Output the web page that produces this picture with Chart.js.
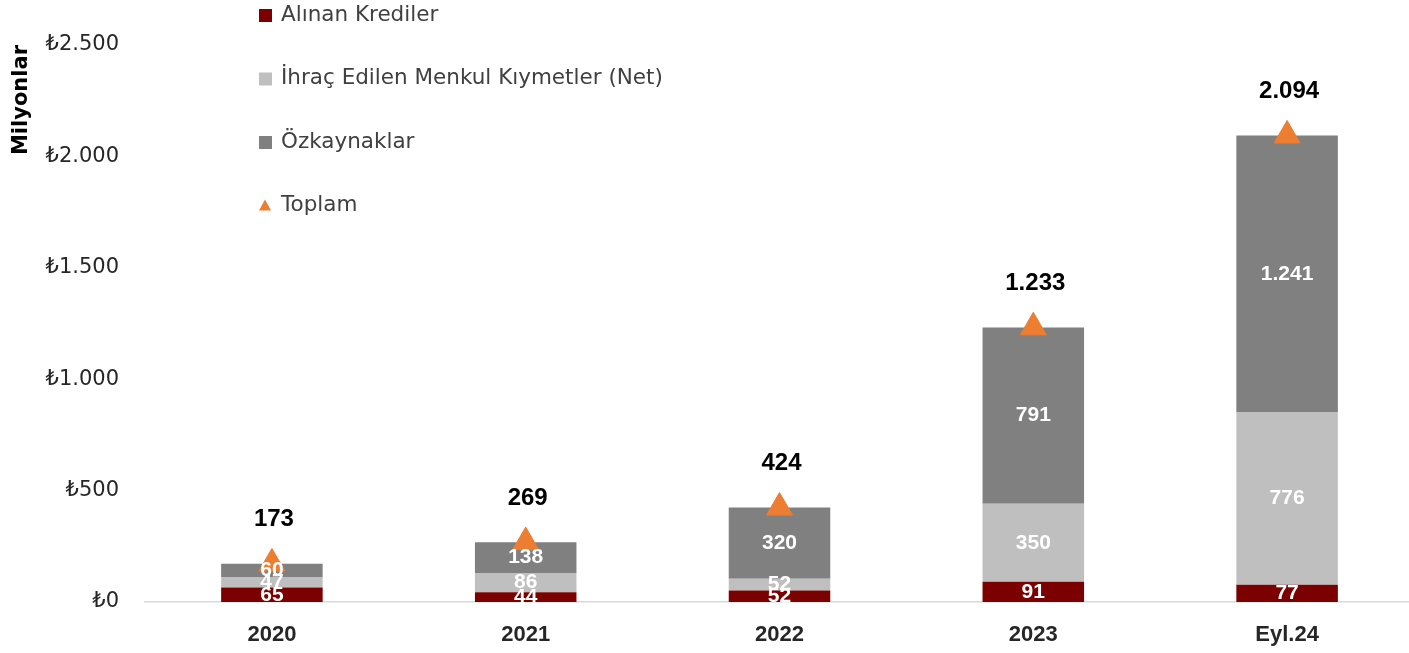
<!DOCTYPE html>
<html>
<head>
<meta charset="utf-8">
<script src="https://cdn.jsdelivr.net/npm/chart.js@4/dist/chart.umd.min.js"></script>
<style>
  html, body { margin: 0; padding: 0; background: #fff; overflow: hidden; }
  #wrap { width: 1430px; height: 653px; }
</style>
</head>
<body>
<div id="wrap"><canvas id="myChart"></canvas></div>
<script>
// values in millions TL
const categories = ['2020', '2021', '2022', '2023', 'Eyl.24'];
const krediler = [65, 44, 52, 91, 77];
const menkul = [47, 86, 52, 350, 776];
const ozkaynak = [60, 138, 320, 791, 1241];
const toplam = [173, 269, 424, 1233, 2094];
const yTicks = [0, 500, 1000, 1500, 2000, 2500];

const WIDE = "'DejaVu Sans', sans-serif";
const NARROW = "'Liberation Sans', Arial, sans-serif";

function fmt(v) {
  return String(v).replace(/\B(?=(\d{3})+(?!\d))/g, '.');
}

// value labels on bars and above the total markers
const labelPlugin = {
  id: 'labels',
  afterDatasetsDraw(chart) {
    const ctx = chart.ctx;
    ctx.save();
    ctx.textAlign = 'center';
    ctx.textBaseline = 'middle';
    chart.data.datasets.forEach((ds, i) => {
      const meta = chart.getDatasetMeta(i);
      meta.data.forEach((el, j) => {
        if (ds.type === 'line') {
          ctx.fillStyle = '#000';
          ctx.font = 'bold 24px ' + NARROW;
          ctx.fillText(fmt(ds.data[j]), el.x + 2, el.y - 44);
        } else {
          ctx.fillStyle = '#fff';
          ctx.font = 'bold 21px ' + NARROW;
          ctx.fillText(fmt(ds.data[j]), el.x, (el.y + el.base) / 2);
        }
      });
    });
    ctx.restore();
  }
};

// vertical legend in the upper left
const legendPlugin = {
  id: 'myLegend',
  afterDraw(chart) {
    const ctx = chart.ctx;
    ctx.save();
    ctx.font = '21.5px ' + WIDE;
    ctx.textBaseline = 'middle';
    const x = 259, y0 = 15, step = 63.5;
    chart.data.datasets.forEach((ds, i) => {
      const y = y0 + i * step;
      ctx.fillStyle = ds.backgroundColor;
      if (ds.type === 'line') {
        ctx.beginPath();
        ctx.moveTo(x + 6, y - 6);
        ctx.lineTo(x + 12, y + 5);
        ctx.lineTo(x, y + 5);
        ctx.closePath();
        ctx.fill();
      } else {
        ctx.fillRect(x, y - 6, 13, 13);
      }
      ctx.fillStyle = '#404040';
      ctx.fillText(ds.label, x + 22, y);
    });
    ctx.restore();
  }
};

const config = {
  data: {
    labels: categories,
    datasets: [
      { type: 'bar', label: 'Alınan Krediler', data: krediler, backgroundColor: '#7B0000', order: 1 },
      { type: 'bar', label: 'İhraç Edilen Menkul Kıymetler (Net)', data: menkul, backgroundColor: '#BFBFBF', order: 1 },
      { type: 'bar', label: 'Özkaynaklar', data: ozkaynak, backgroundColor: '#808080', order: 1 },
      { type: 'line', label: 'Toplam', data: toplam, showLine: false,
        pointStyle: 'triangle', pointRadius: 15, backgroundColor: '#ED7D31',
        borderColor: '#ED7D31', order: 0 }
    ]
  },
  options: {
    responsive: true,
    maintainAspectRatio: false,
    animation: false,
    layout: { padding: { top: 45, bottom: 0, right: 5, left: 0 } },
    datasets: { bar: { barPercentage: 0.4, categoryPercentage: 1 } },
    plugins: {
      legend: { display: false },
      tooltip: { enabled: false }
    },
    scales: {
      x: {
        stacked: true,
        afterFit(scale) { scale.height = 51; },
        grid: { display: false, drawTicks: false },
        border: { display: true, color: '#D9D9D9', width: 1.5 },
        ticks: { padding: 20, color: '#262626', font: { family: NARROW, size: 22, weight: 'bold' } }
      },
      y: {
        stacked: true,
        min: 0,
        max: 2500,
        afterBuildTicks(scale) { scale.ticks = yTicks.map(v => ({ value: v })); },
        afterFit(scale) { scale.width = 145; },
        grid: { display: false, drawTicks: false },
        border: { display: false },
        ticks: {
          padding: 26,
          color: '#262626',
          font: { family: WIDE, size: 21 },
          callback: v => '₺' + fmt(v)
        },
        title: {
          display: true,
          text: 'Milyonlar',
          align: 'end',
          color: '#000',
          padding: { top: 9, bottom: 0 },
          font: { family: WIDE, size: 21, weight: 'bold' }
        }
      }
    }
  },
  plugins: [labelPlugin, legendPlugin]
};

const myChart = new Chart(document.getElementById('myChart').getContext('2d'), config);
</script>
</body>
</html>
